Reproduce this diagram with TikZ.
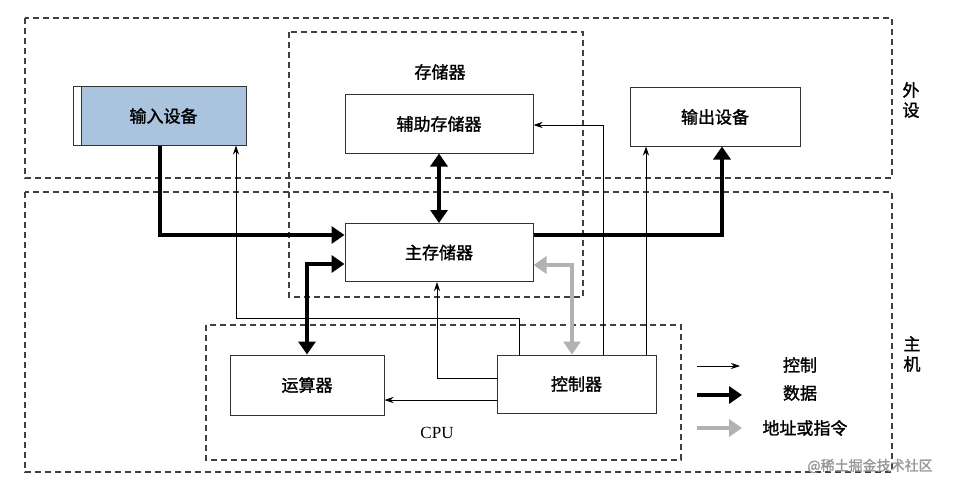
\documentclass[tikz,border=0pt]{standalone}
\usepackage{fontspec}
\setmainfont{Liberation Serif}
\newfontfamily\cjk{Noto Sans CJK SC}[FakeBold=1.5]
\usetikzlibrary{arrows.meta}
\definecolor{inblue}{HTML}{A9C4DC}
\tikzset{
  grp/.style={draw=black!75, dashed, dash pattern=on 6pt off 4pt, line width=1.2pt},
  blk/.style={draw=black!80, line width=1pt, minimum width=188pt, minimum height=58pt, font=\cjk\fontsize{17}{17}\selectfont, inner sep=0pt},
  lbl/.style={font=\cjk\fontsize{17}{20}\selectfont, inner sep=0pt},
  data/.style={line width=4.5pt, -{Triangle[length=13pt,width=17pt]}},
  datab/.style={line width=4.5pt, {Triangle[length=13pt,width=17pt]}-{Triangle[length=13pt,width=17pt]}},
  addr/.style={line width=4.5pt, black!30, {Triangle[length=13pt,width=17pt]}-{Triangle[length=13pt,width=17pt]}},
  ctl/.style={line width=0.8pt, -{Stealth[length=9pt,width=6pt]}},
}
\begin{document}
\begin{tikzpicture}[x=1pt,y=-1pt]
\useasboundingbox (0,0) rectangle (978,495);
\fill[white] (0,0) rectangle (978,495);
% groups
\draw[grp] (25,18) rectangle (892,178);
\draw[grp] (25,192) rectangle (892,472);
\draw[grp] (289,32) rectangle (583,297);
\draw[grp] (206,325) rectangle (681,460);
% labels
\node[lbl] (lmem) at (440,72) {存储器};
\node[lbl, align=center] (lper) at (911,100) {外\\设};
\node[lbl, align=center] (lhost) at (912,354) {主\\机};
\node[font=\fontsize{17}{17}\selectfont] (lcpu) at (437,433) {CPU};
% boxes
\draw[black!80, line width=1pt] (73,87) rectangle (246,145);
\node[blk, fill=inblue, minimum width=165pt] (in) at (163.5,116) {输入设备};
\node[blk] (aux) at (439,124) {辅助存储器};
\node[blk, minimum width=170pt] (out) at (715,117) {输出设备};
\node[blk] (mem) at (439,252.5) {主存储器};
\node[blk, minimum width=154pt, minimum height=60pt] (alu) at (307,385) {运算器};
\node[blk, minimum width=159pt] (cu) at (576.5,384) {控制器};
% data
\draw[data] (in.south -| 160,0) |- (mem.west |- 0,235);
\draw[data] (mem.east |- 0,235) -| (out.south -| 722,0);
\draw[datab] (aux) -- (mem);
\draw[datab] (alu.north -| 307,0) |- (mem.west |- 0,264);
\draw[addr] (mem.east |- 0,265) -| (cu.north -| 572,0);
% control
\draw[ctl] (cu.west |- 0,378) -| (mem.south -| 437,0);
\draw[ctl] (cu.west |- 0,400) -- (alu.east |- 0,400);
\draw[ctl] (cu.north -| 519,0) |- (236,318) -- (in.south -| 236,0);
\draw[ctl] (cu.north -| 603,0) |- (aux.east |- 0,125);
\draw[ctl] (cu.north -| 646,0) -- (out.south -| 646,0);
% legend
\coordinate (l1a) at (697,366); \coordinate (l1b) at (740,366);
\coordinate (l2a) at (697,395); \coordinate (l2b) at (742,395);
\coordinate (l3a) at (697,428); \coordinate (l3b) at (742,428);
\draw[ctl] (l1a) -- (l1b);
\draw[line width=4.5pt, -{Triangle[length=13pt,width=17pt]}] (l2a) -- (l2b);
\draw[line width=4.5pt, black!30, -{Triangle[length=13pt,width=17pt]}] (l3a) -- (l3b);
\node[lbl] (t1) at (800,365) {控制};
\node[lbl] (t2) at (800,393) {数据};
\node[lbl] (t3) at (805,428) {地址或指令};
\node[lbl, black!40, font=\cjk\fontsize{14}{14}\selectfont] (wm) at (870,466) {@稀土掘金技术社区};
\end{tikzpicture}
\end{document}
